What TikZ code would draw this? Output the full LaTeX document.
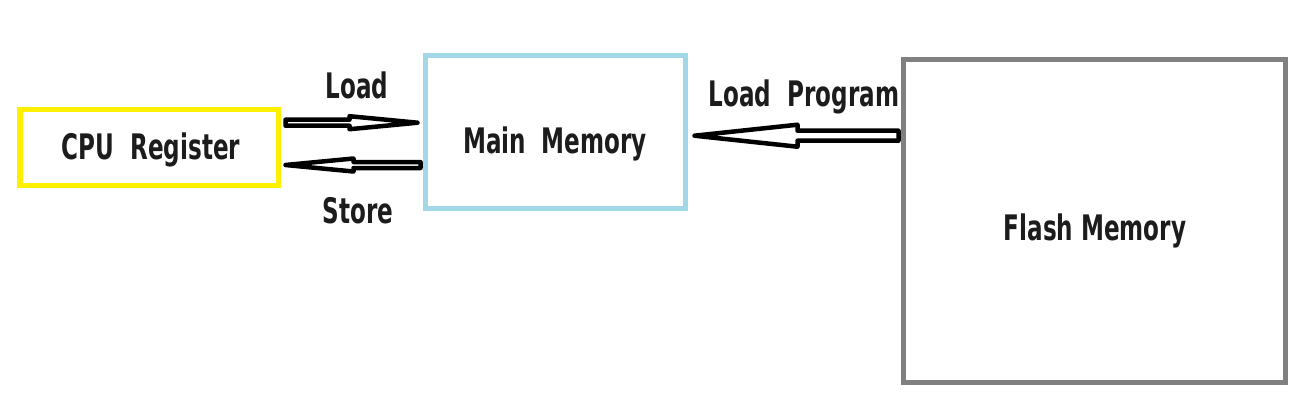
\documentclass[tikz,border=0pt]{standalone}
\usepackage{fontspec}
\setmainfont{DejaVu Sans Condensed}
\usetikzlibrary{calc,positioning}

\definecolor{cpuyellow}{HTML}{FFF000}
\definecolor{mainblue}{HTML}{A0D8E8}
\definecolor{flashgray}{HTML}{808080}
\definecolor{textdark}{HTML}{1C1C1C}

\tikzset{
    box/.style={draw, line width=0.1cm, fill=white, inner sep=0pt},
    label/.style={font=\bfseries\fontsize{20}{22}\selectfont, text=textdark},
    arrowline/.style={draw=black, line width=0.09cm, line join=round, fill=white}
}

% narrow the heavy labels a bit
\newcommand{\narrow}[1]{\scalebox{0.73}[1]{#1}}

% hollow block arrow: tail, tip, shaft half width, head half width, head length (signed)
\newcommand{\hollowarrow}[5]{%
    \draw[arrowline] let \p1=(#1), \p2=(#2) in
        (\x1,\y1+#3) -- (\x2-#5,\y2+#3) -- (\x2-#5,\y2+#4) -- (\x2,\y2)
        -- (\x2-#5,\y2-#4) -- (\x2-#5,\y2-#3) -- (\x1,\y1-#3) -- cycle;
}

\begin{document}
\begin{tikzpicture}
    \useasboundingbox (0,0) rectangle (26.32,-8.3);

    % draw the boxes
    \node[box, draw=cpuyellow, minimum width=5.16cm, minimum height=1.52cm] (cpu) at (2.98,-2.94) {};
    \node[box, draw=mainblue, minimum width=5.2cm, minimum height=3.06cm] (main) at (11.1,-2.64) {};
    \node[box, draw=flashgray, minimum width=7.64cm, minimum height=6.46cm] (flash) at (21.88,-4.41) {};

    % the texts
    \node[label] (cputext) at (3.02,-2.99) {\narrow{CPU\ \ Register}};
    \node[label] (maintext) at (11.1,-2.87) {\narrow{Main\ \ Memory}};
    \node[label] (flashtext) at (21.9,-4.62) {\narrow{Flash Memory}};
    \node[label] (load) at (7.14,-1.7) {\narrow{Load}};
    \node[label] (store) at (7.16,-4.22) {\narrow{Store}};
    \node[label] (loadprog) at (16.08,-1.94) {\narrow{Load\ \ Program}};

    % the points where the arrows start and end
    \coordinate (loadA) at ([xshift=0.1cm, yshift=0.486cm]cpu.east);
    \coordinate (loadB) at ([xshift=-0.1cm, yshift=0.186cm]main.west);
    \coordinate (storeA) at ([xshift=-0.04cm, yshift=-0.66cm]main.west);
    \coordinate (storeB) at ([xshift=0.1cm, yshift=-0.36cm]cpu.east);
    \coordinate (progA) at ([xshift=-0.04cm, yshift=1.696cm]flash.west);
    \coordinate (progB) at ([xshift=0.14cm]main.east |- progA);

    % draw the arrows
    \hollowarrow{loadA}{loadB}{0.06cm}{0.13cm}{1.36cm}
    \hollowarrow{storeA}{storeB}{0.06cm}{0.13cm}{-1.36cm}
    \hollowarrow{progA}{progB}{0.1cm}{0.22cm}{-2.06cm}

\end{tikzpicture}
\end{document}
